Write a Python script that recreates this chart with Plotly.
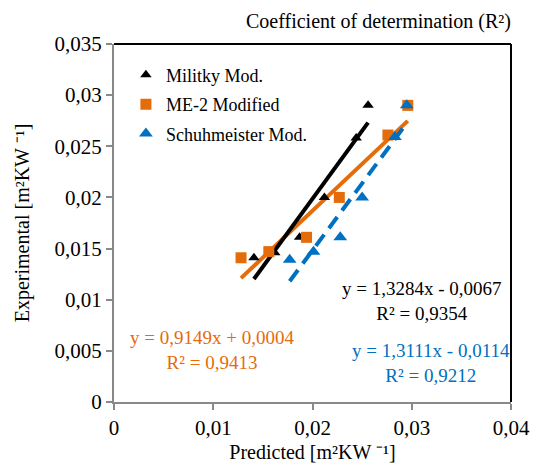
import numpy as np
import plotly.graph_objects as go

# ---- data ----
militky_x = [0.0141, 0.0162, 0.0187, 0.0212, 0.0244, 0.0256]
militky_y = [0.0141, 0.0146, 0.0161, 0.0200, 0.0258, 0.0290]

me2_x = [0.0128, 0.0156, 0.0194, 0.0227, 0.0276, 0.0296]
me2_y = [0.0141, 0.0147, 0.0161, 0.0200, 0.0261, 0.0290]

schuh_x = [0.0177, 0.0201, 0.0228, 0.0250, 0.0283, 0.0295]
schuh_y = [0.0139, 0.0147, 0.0161, 0.0200, 0.0259, 0.0290]

# trendline coefficients (slope, intercept) as printed on the chart
militky_fit = [1.3284, -0.0067]
me2_fit = [0.9149, 0.0004]
schuh_fit = [1.3111, -0.0114]

militky_label = "y = 1,3284x - 0,0067<br>R² = 0,9354"
me2_label = "y = 0,9149x + 0,0004<br>R² = 0,9413"
schuh_label = "y = 1,3111x - 0,0114<br>R² = 0,9212"

x_ticks = [0, 0.01, 0.02, 0.03, 0.04]
x_tick_text = ["0", "0,01", "0,02", "0,03", "0,04"]
y_ticks = [0, 0.005, 0.01, 0.015, 0.02, 0.025, 0.03, 0.035]
y_tick_text = ["0", "0,005", "0,01", "0,015", "0,02", "0,025", "0,03", "0,035"]

BLACK = "black"
ORANGE = "#E46C0A"
BLUE = "#0070C0"
FONT = "Liberation Serif"

# page is rendered with an 8px body margin
W, H = 534, 464
L, T, R, B = 106, 36, 24, 70

def trend(xs, fit):
    xr = np.array([min(xs), max(xs)])
    return xr, fit[0] * xr + fit[1]

fig = go.Figure()

for xs, fit, col, dash in [(me2_x, me2_fit, ORANGE, "solid"),
                           (militky_x, militky_fit, BLACK, "solid"),
                           (schuh_x, schuh_fit, BLUE, "14px,8px")]:
    tx, ty = trend(xs, fit)
    fig.add_trace(go.Scatter(x=tx, y=ty, mode="lines", showlegend=False,
                             line=dict(color=col, width=4, dash=dash),
                             hoverinfo="skip"))

fig.add_trace(go.Scatter(x=militky_x, y=militky_y, mode="markers", name="Militky Mod.",
                         legendgroup="a",
                         marker=dict(symbol="triangle-up", size=10, color=BLACK)))
fig.add_trace(go.Scatter(x=me2_x, y=me2_y, mode="markers", name="ME-2 Modified",
                         legendgroup="b",
                         marker=dict(symbol="square", size=11, color=ORANGE)))
fig.add_trace(go.Scatter(x=schuh_x, y=schuh_y, mode="markers", name="Schuhmeister Mod.",
                         legendgroup="c",
                         marker=dict(symbol="triangle-up", size=12, color=BLUE)))

axis_common = dict(showgrid=False, zeroline=False, showline=True, linecolor="#898989",
                   linewidth=2, ticks="outside", ticklen=6, tickwidth=2, tickcolor="#898989",
                   tickfont=dict(family=FONT, size=21, color=BLACK))

fig.update_layout(
    width=W, height=H,
    margin=dict(l=L, r=R, t=T, b=B),
    paper_bgcolor="white", plot_bgcolor="white",
    xaxis=dict(range=[0, 0.04], tickvals=x_ticks, ticktext=x_tick_text,
               title=dict(text="Predicted [m²KW ⁻¹]", font=dict(family=FONT, size=20, color=BLACK),
                          standoff=6),
               **axis_common),
    yaxis=dict(range=[0, 0.035], tickvals=y_ticks, ticktext=y_tick_text,
               title=dict(text="Experimental [m²KW ⁻¹]", font=dict(family=FONT, size=20, color=BLACK),
                          standoff=20),
               **axis_common),
    legend=dict(x=0.03, y=0.965, xanchor="left", yanchor="top", bgcolor="rgba(0,0,0,0)",
                font=dict(family=FONT, size=18, color=BLACK), tracegroupgap=3,
                itemwidth=30),
    showlegend=True,
    shapes=[
        dict(type="line", xref="paper", yref="paper", x0=0, x1=1, y0=1, y1=1,
             line=dict(color="black", width=2)),
        dict(type="line", xref="paper", yref="paper", x0=1, x1=1, y0=0, y1=1,
             line=dict(color="black", width=2)),
    ],
    annotations=[
        dict(x=(383 - 8 - L) / (W - L - R), y=1 + (T - 14) / (H - T - B), xref="paper", yref="paper",
             xanchor="center", yanchor="middle", text="Coefficient of determination (R²)",
             showarrow=False, font=dict(family=FONT, size=20, color=BLACK)),
        dict(x=0.0310, y=0.0099, xref="x", yref="y", text=militky_label, showarrow=False,
             align="center", font=dict(family=FONT, size=19, color=BLACK)),
        dict(x=0.0099, y=0.0051, xref="x", yref="y", text=me2_label, showarrow=False,
             align="center", font=dict(family=FONT, size=19, color=ORANGE)),
        dict(x=0.0319, y=0.0038, xref="x", yref="y", text=schuh_label, showarrow=False,
             align="center", font=dict(family=FONT, size=19, color=BLUE)),
    ],
)

fig.write_html("out.html")
